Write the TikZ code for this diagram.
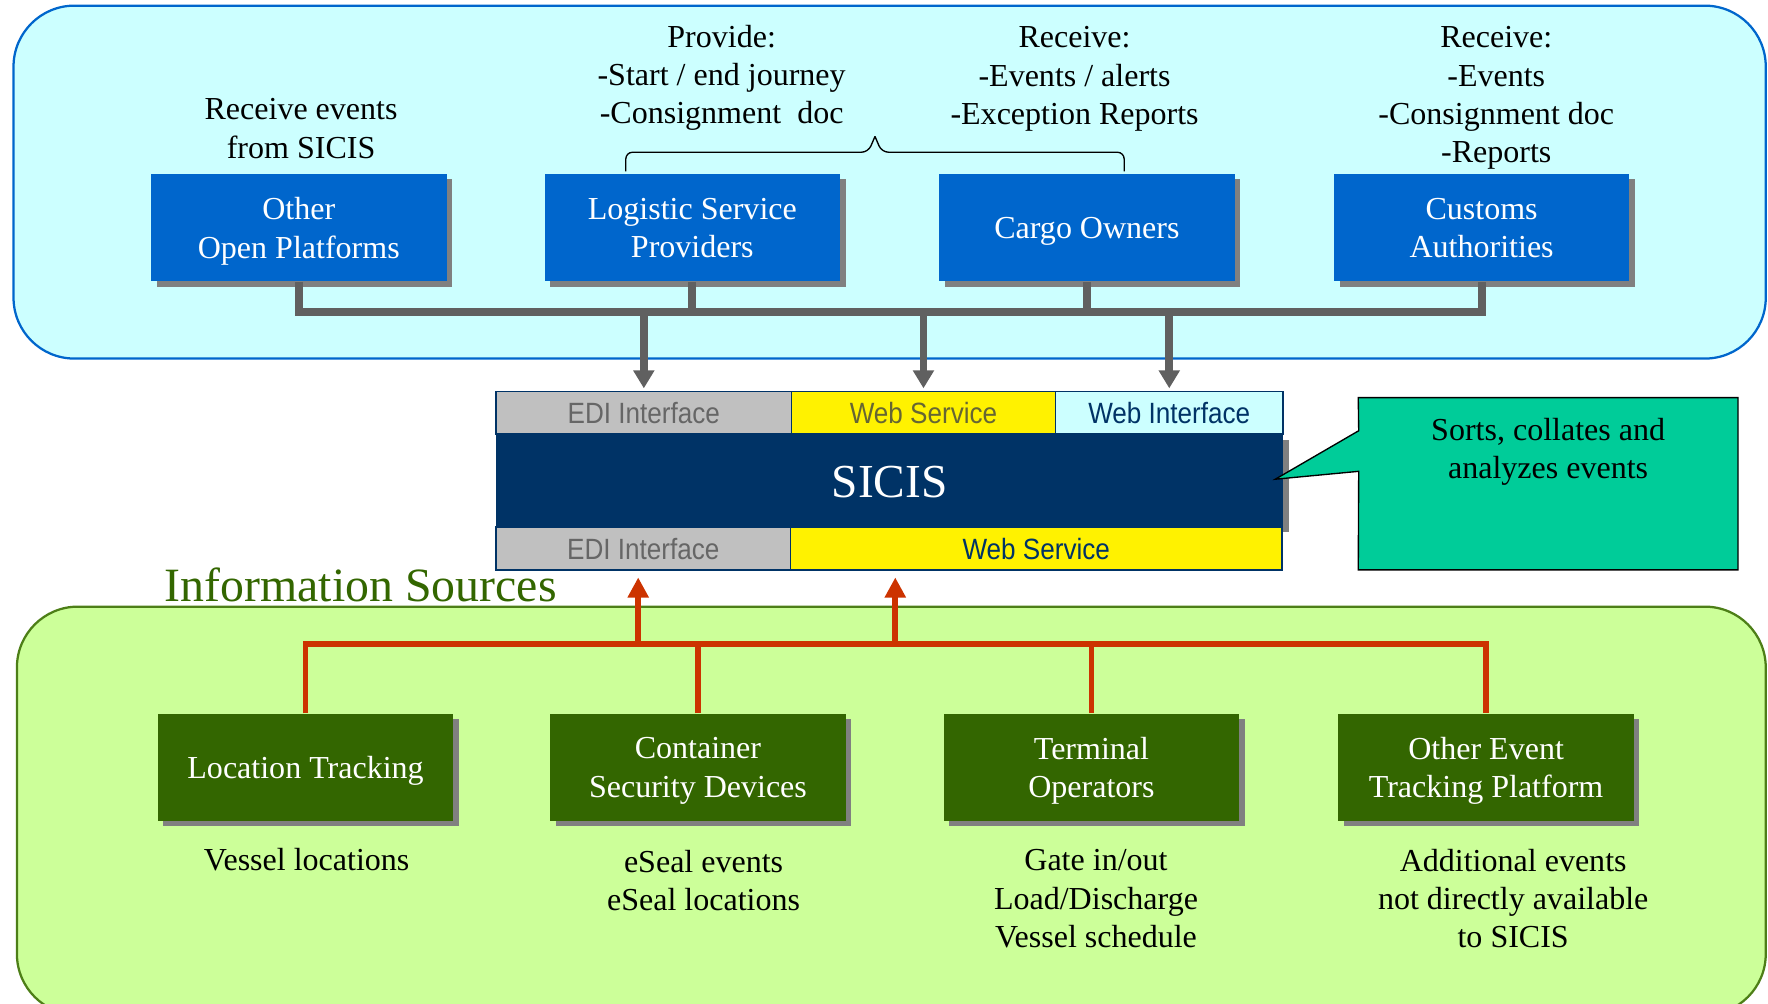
\documentclass[tikz,border=0pt]{standalone}
\usepackage{fontspec}
\setmainfont{Liberation Serif}
\newfontfamily\narrowsans[FakeStretch=0.89]{Liberation Sans}
\usetikzlibrary{shadows,arrows.meta}
\definecolor{skyfill}{HTML}{CCFFFF}
\definecolor{skyline}{HTML}{0066CC}
\definecolor{limefill}{HTML}{CCFF99}
\definecolor{limeline}{HTML}{4D7F17}
\definecolor{partyblue}{HTML}{0066CC}
\definecolor{srcgreen}{HTML}{336600}
\definecolor{navy}{HTML}{003366}
\definecolor{busgray}{HTML}{606060}
\definecolor{busred}{HTML}{CC3300}
\definecolor{notegreen}{HTML}{00CC99}
\definecolor{edigray}{HTML}{C0C0C0}
\definecolor{editext}{HTML}{666666}
\definecolor{wstext}{HTML}{666633}
\definecolor{shadowgray}{HTML}{808080}
\begin{document}
\begin{tikzpicture}[x=0.5pt, y=-0.5pt,
	every node/.style={font=\fontsize{14.2}{17}\selectfont},
	party/.style={fill=partyblue, text=white, minimum width=131pt, minimum height=47.5pt, align=center, inner sep=0pt,
		text depth=-2.3pt,
		drop shadow={shadow xshift=2.5pt, shadow yshift=-2.3pt, fill=shadowgray, opacity=1}},
	source/.style={party, fill=srcgreen, text depth=-0.7pt},
	iface/.style={draw=navy, line width=0.6pt, minimum height=19pt, inner sep=0pt, font=\narrowsans\fontsize{13}{15}\selectfont},
	graybus/.style={busgray, line width=3.5pt},
	redbus/.style={busred, line width=2.5pt}]
	\useasboundingbox (0,0) rectangle (1568,890);
	\clip (0,0) rectangle (1568,890);

%regions
	\draw[skyline, fill=skyfill, line width=1pt, rounded corners=27pt] (12,5) rectangle (1566,318);
	\draw[limeline, fill=limefill, line width=1pt, rounded corners=27pt] (15,538) rectangle (1566,900);

%parties
	\foreach \x/\name/\txt in {265/oop/{Other\\Open Platforms}, 614/lsp/{Logistic Service\\Providers},
		964/cargo/{Cargo Owners}, 1314/customs/{Customs\\Authorities}} {
		\node[party] (\name) at (\x, 202) {\txt};
	}
	\node[align=center] (oopNote) at (267, 114) {Receive events\\from SICIS};
	\node[align=center] (lspNote) at (640, 69) {Provide:\\-Start / end journey\\-Consignment~ doc};
	\node[align=center] (cargoNote) at (953, 70) {Receive:\\-Events / alerts\\-Exception Reports};
	\node[align=center] (customsNote) at (1327, 87) {Receive:\\-Events\\-Consignment doc\\-Reports};

%brace
	\draw[line width=0.6pt, rounded corners=3pt] (555,152) -- (555,135) -- (770,135) -- (776,121);
	\draw[line width=0.6pt, rounded corners=3pt] (997,152) -- (997,135) -- (782,135) -- (776,121);

%SICIS
	\node[fill=navy, text=white, minimum width=349pt, minimum height=41pt, inner sep=0pt, font=\fontsize{21}{25}\selectfont,
		text height=15.5pt,
		drop shadow={shadow xshift=2.5pt, shadow yshift=-2.5pt, fill=shadowgray, opacity=1}] (sicis) at (789, 426) {SICIS};
	\node[iface, fill=edigray, text=editext, minimum width=131pt] (ediTop) at (571, 366) {EDI Interface};
	\node[iface, fill=yellow, text=wstext, minimum width=117pt] (wsTop) at (819, 366) {Web Service};
	\node[iface, fill=skyfill, text=navy, minimum width=101pt] (wiTop) at (1037, 366) {Web Interface};
	\node[iface, fill=edigray, text=editext, minimum width=130.5pt] (ediBot) at (570.5, 486.5) {EDI Interface};
	\node[iface, fill=yellow, text=navy, minimum width=218pt] (wsBot) at (919, 486.5) {Web Service};

%gray lines
	\coordinate (topbus) at (0, 277);
	\draw[graybus] (oop.south) -- (oop.south |- topbus) -- (customs.south |- topbus) -- (customs.south);
	\draw[graybus] (lsp.south) -- (lsp.south |- topbus);
	\draw[graybus] (cargo.south) -- (cargo.south |- topbus);
	\foreach \name in {ediTop, wsTop, wiTop} {
		\draw[graybus, -{Triangle[length=8pt, width=9pt]}, shorten >=1pt] (\name.north |- topbus) -- (\name.north);
	}

%note
	\node[minimum width=168pt, minimum height=76pt, inner sep=0pt] (note) at (1373, 429) {};
	\draw[fill=notegreen, line width=0.6pt] (note.north west) -- (note.north east) -- (note.south east) -- (note.south west)
		-- (1205, 418) -- (1131, 425) -- (1205, 382) -- cycle;
	\node[align=center] (noteText) at (1373, 401) {Sorts, collates and\\analyzes events};

%sources
	\node[text=srcgreen, font=\fontsize{21.2}{25}\selectfont] (infoTitle) at (320, 519) {Information Sources};
	\foreach \x/\name/\txt in {271/loc/{Location Tracking}, 619/csd/{Container\\Security Devices},
		968/term/{Terminal\\Operators}, 1318/oetp/{Other Event\\Tracking Platform}} {
		\node[source] (\name) at (\x, 680.5) {\txt};
	}
	\node[align=center] (locNote) at (272, 762) {Vessel locations};
	\node[align=center] (csdNote) at (624, 781) {eSeal events\\eSeal locations};
	\node[align=center] (termNote) at (972, 797) {Gate in/out\\Load/Discharge\\Vessel schedule};
	\node[align=center] (oetpNote) at (1342, 797) {Additional events\\not directly available\\to SICIS};

%red lines
	\coordinate (srcbus) at (0, 571);
	\draw[redbus] (loc.north) -- (loc.north |- srcbus) -- (oetp.north |- srcbus) -- (oetp.north);
	\draw[redbus] (csd.north) -- (csd.north |- srcbus);
	\draw[redbus] (term.north) -- (term.north |- srcbus);
	\coordinate (upEdi) at (566, 571);
	\coordinate (upWs) at (794, 571);
	\draw[redbus, -{Triangle[length=9pt, width=9pt]}, shorten >=3pt] (upEdi) -- (upEdi |- ediBot.south);
	\draw[redbus, -{Triangle[length=9pt, width=9pt]}, shorten >=3pt] (upWs) -- (upWs |- wsBot.south);
\end{tikzpicture}
\end{document}
